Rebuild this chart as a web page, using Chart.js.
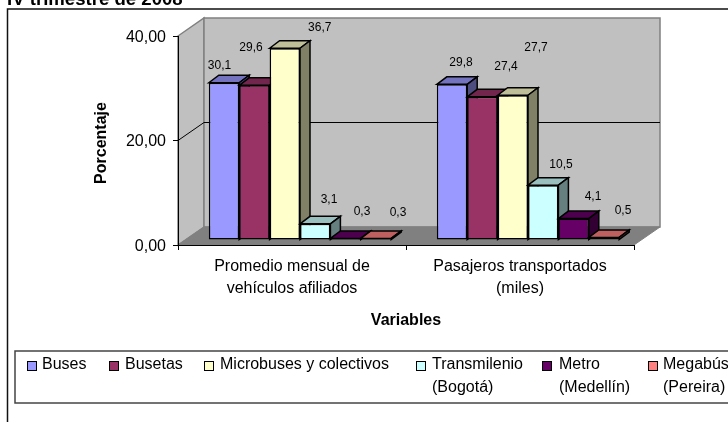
<!DOCTYPE html>
<html>
<head>
<meta charset="utf-8">
<title>IV trimestre de 2008</title>
<script src="https://cdn.jsdelivr.net/npm/chart.js@4"></script>
<style>
  html, body { margin: 0; padding: 0; background: #fff; overflow: hidden; }
  canvas { display: block; }
</style>
</head>
<body>
<canvas id="chart" width="728" height="422"></canvas>
<script>
const categories = [["Promedio mensual de", "vehículos afiliados"], ["Pasajeros transportados", "(miles)"]];
const yTicks = [0, 20, 40];
const seriesNames = ["Buses", "Busetas", "Microbuses y colectivos", "Transmilenio (Bogotá)", "Metro (Medellín)", "Megabús (Pereira)"];
const buses = [30.1, 29.8];
const busetas = [29.6, 27.4];
const microbuses = [36.7, 27.7];
const transmilenio = [3.1, 10.5];
const metro = [0.3, 4.1];
const megabus = [0.3, 0.5];
const seriesValues = [buses, busetas, microbuses, transmilenio, metro, megabus];
const seriesColors = ["#9999ff", "#993366", "#ffffcc", "#ccffff", "#660066", "#ff8080"];

// 3D look
const depth = { x: 26, y: -18 };     // back wall vs front plane
const barShift = { x: 8, y: -5 };    // bars stand a bit inside the floor
const barDepth = { x: 10, y: -7.5 };

// the labels in the picture float away from their bars
const labelShiftX = [[-4.5, 9], [-3.4, 23.6], [35, 23.2], [13.8, 17.8], [16.4, 19.4], [22, 19]];
const labelShiftY = [[-16.7, -21.3], [-37.3, -29.8], [-21, -47.3], [-23.8, -20], [-26.4, -21.6], [-25.4, -26.4]];

// legend layout
const legendLines = [["Buses"], ["Busetas"], ["Microbuses y colectivos"], ["Transmilenio", "(Bogotá)"], ["Metro", "(Medellín)"], ["Megabús", "(Pereira)"]];
const legendMarkX = [27, 109, 204, 416, 542, 648];
const legendTextX = [42, 125, 220, 432, 559, 663];

const shade = (hex, f) => {
    const n = parseInt(hex.slice(1), 16);
    const c = [n >> 16, (n >> 8) & 255, n & 255].map((v) => Math.round(v * f));
    return `rgb(${c[0]},${c[1]},${c[2]})`;
};

const poly = (ctx, pts, fill, stroke, width) => {
    ctx.beginPath();
    pts.forEach((p, i) => (i ? ctx.lineTo(p[0], p[1]) : ctx.moveTo(p[0], p[1])));
    ctx.closePath();
    if (fill) {
        ctx.fillStyle = fill;
        ctx.fill();
    }
    if (stroke) {
        ctx.strokeStyle = stroke;
        ctx.lineWidth = width || 1;
        ctx.stroke();
    }
};

const box3d = {
    id: "box3d",
    beforeDraw(chart) {
        const ctx = chart.ctx;
        const { left, right, top, bottom } = chart.chartArea;
        const y = chart.scales.y;
        const d = depth;

        // frame and cut-off title
        ctx.save();
        ctx.fillStyle = "#000";
        ctx.font = "bold 18.6px 'Liberation Sans'";
        ctx.textAlign = "left";
        ctx.textBaseline = "alphabetic";
        ctx.fillText("IV trimestre de 2008", 7, 5);
        ctx.strokeStyle = "#111";
        ctx.lineWidth = 1.5;
        ctx.beginPath();
        ctx.moveTo(7.5, 422);
        ctx.lineTo(7.5, 9);
        ctx.lineTo(728, 9);
        ctx.stroke();

        // walls and floor
        poly(ctx, [[left, top], [left + d.x, top + d.y], [left + d.x, bottom + d.y], [left, bottom]], "#c0c0c0", "#808080", 1.5);
        poly(ctx, [[left + d.x, top + d.y], [right + d.x, top + d.y], [right + d.x, bottom + d.y], [left + d.x, bottom + d.y]], "#c0c0c0", "#808080", 1.5);
        poly(ctx, [[left, bottom], [right, bottom], [right + d.x, bottom + d.y], [left + d.x, bottom + d.y]], "#808080", "#808080", 1);

        // grid line on the walls
        yTicks.slice(1, -1).forEach((v) => {
            const py = y.getPixelForValue(v);
            ctx.strokeStyle = "#000";
            ctx.lineWidth = 1;
            ctx.beginPath();
            ctx.moveTo(left, py);
            ctx.lineTo(left + d.x, py + d.y);
            ctx.lineTo(right + d.x, py + d.y);
            ctx.stroke();
        });
        ctx.restore();
    },
    // bars go left to right so each one covers the side of the bar before it
    beforeDatasetsDraw(chart) {
        const ctx = chart.ctx;
        const b = barDepth;
        ctx.save();
        ctx.translate(barShift.x, barShift.y);
        seriesValues.forEach((values, s) => {
            const meta = chart.getDatasetMeta(s);
            meta.data.forEach((bar) => {
                const l = bar.x - bar.width / 2;
                const r = bar.x + bar.width / 2;
                poly(ctx, [[l, bar.y], [l + b.x, bar.y + b.y], [r + b.x, bar.y + b.y], [r, bar.y]], shade(seriesColors[s], 0.75), "#000", 1.5);
                poly(ctx, [[r, bar.y], [r + b.x, bar.y + b.y], [r + b.x, bar.base + b.y], [r, bar.base]], shade(seriesColors[s], 0.5), "#000", 1.5);
            });
            meta.controller.draw();
        });
        ctx.restore();
    },
    beforeDatasetDraw() {
        return false; // already drawn above
    },
    afterDatasetsDraw(chart) {
        const ctx = chart.ctx;

        // value labels
        ctx.save();
        ctx.fillStyle = "#000";
        ctx.font = "12px 'Liberation Sans'";
        ctx.textAlign = "center";
        ctx.textBaseline = "middle";
        seriesValues.forEach((values, s) => {
            const meta = chart.getDatasetMeta(s);
            values.forEach((v, i) => {
                const bar = meta.data[i];
                ctx.fillText(
                    v.toFixed(1).replace(".", ","),
                    bar.x + barShift.x + labelShiftX[s][i],
                    bar.y + barShift.y + labelShiftY[s][i]
                );
            });
        });
        ctx.restore();
    },
    afterDraw(chart) {
        const ctx = chart.ctx;
        ctx.save();
        // y title sits a little below the axis centre in the picture
        ctx.save();
        ctx.translate(102, 143);
        ctx.rotate(-Math.PI / 2);
        ctx.fillStyle = "#000";
        ctx.font = "bold 16px 'Liberation Sans'";
        ctx.textAlign = "center";
        ctx.textBaseline = "middle";
        ctx.fillText("Porcentaje", 0, 0);
        ctx.restore();

        // legend box
        ctx.strokeStyle = "#444";
        ctx.lineWidth = 1.5;
        ctx.strokeRect(15, 351, 720, 52);
        ctx.font = "16px 'Liberation Sans'";
        ctx.textAlign = "left";
        ctx.textBaseline = "middle";
        legendLines.forEach((lines, s) => {
            ctx.fillStyle = seriesColors[s];
            ctx.fillRect(legendMarkX[s], 361, 9, 10);
            ctx.strokeStyle = "#000";
            ctx.lineWidth = 1;
            ctx.strokeRect(legendMarkX[s] + 0.5, 361.5, 9, 9);
            ctx.fillStyle = "#000";
            lines.forEach((t, i) => ctx.fillText(t, legendTextX[s], 365 + i * 23));
        });
        ctx.restore();
    }
};

new Chart(document.getElementById("chart"), {
    type: "bar",
    data: {
        labels: categories,
        datasets: seriesValues.map((values, i) => ({
            label: seriesNames[i],
            data: values,
            backgroundColor: seriesColors[i],
            borderColor: "#000",
            borderWidth: 1.5,
            borderSkipped: false,
            clip: false
        }))
    },
    options: {
        responsive: false,
        devicePixelRatio: 1,
        animation: false,
        layout: { padding: { left: 94, right: 94, top: 36, bottom: 92 } },
        datasets: { bar: { categoryPercentage: 0.8, barPercentage: 1 } },
        plugins: {
            legend: { display: false },
            title: { display: false },
            tooltip: { enabled: false }
        },
        scales: {
            x: {
                grid: { drawOnChartArea: false, color: "#000", tickLength: 5, tickColor: "#000" },
                border: { color: "#000", width: 1 },
                ticks: { color: "#000", font: { family: "'Liberation Sans'", size: 16, lineHeight: 1.4 }, padding: 5, maxRotation: 0, autoSkip: false },
                title: { display: true, text: "Variables", color: "#000", font: { family: "'Liberation Sans'", size: 16, weight: "bold" }, padding: 0 },
                afterFit(scale) { scale.height = 85; }
            },
            y: {
                min: 0,
                max: 40,
                afterBuildTicks(scale) { scale.ticks = yTicks.map((value) => ({ value })); },
                grid: { drawOnChartArea: false, color: "#000", tickLength: 5, tickColor: "#000" },
                border: { color: "#000", width: 1 },
                ticks: {
                    color: "#000",
                    font: { family: "'Liberation Sans'", size: 16 },
                    padding: 7,
                    labelOffset: 1.5,
                    callback: (v) => v.toFixed(2).replace(".", ",")
                },
                afterFit(scale) { scale.width = 84; }
            }
        }
    },
    plugins: [box3d]
});
</script>
</body>
</html>
